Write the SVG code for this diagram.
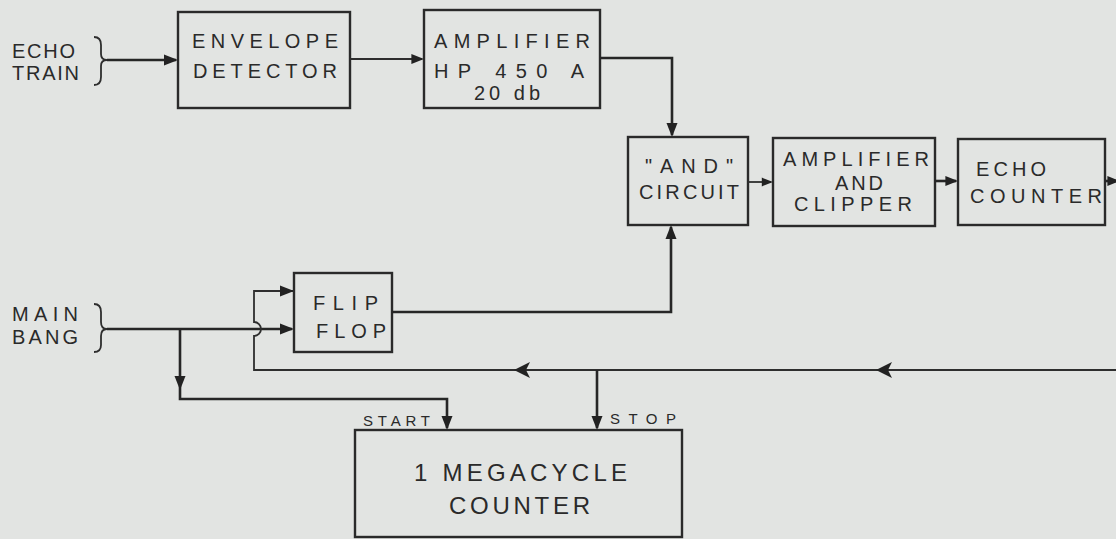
<svg xmlns="http://www.w3.org/2000/svg" xmlns:xlink="http://www.w3.org/1999/xlink" width="1116" height="539" viewBox="0 0 1116 539">
<style>
.bg{fill:#e2e4e2}
.box{fill:none;stroke:#2a2a2a;stroke-width:2.4}
.ln{fill:none;stroke:#262626;stroke-width:2.6}
.thin{fill:none;stroke:#2e2e2e;stroke-width:1.8}
.ah{fill:#222}
text{font-family:"Liberation Sans","DejaVu Sans",sans-serif;fill:#2a2a2a;font-size:20px}
.sm{font-size:15px}
.lg{font-size:24px}
</style>
<defs>
<path id="ah" d="M0,0 L-14,-5.5 L-14,5.5 Z"/>
<path id="ahb" d="M0,0 L-16,-8 L-12,0 L-16,8 Z"/>
</defs>
<rect class="bg" x="0" y="0" width="1116" height="539"/>

<g id="echo-train">
<text x="12" y="58" textLength="63" lengthAdjust="spacing">ECHO</text>
<text x="12" y="80" textLength="67" lengthAdjust="spacing">TRAIN</text>
<path class="thin" d="M94,37 Q101,37 101,45 L101,54 Q101,60 107,60 Q101,60 101,66 L101,77 Q101,85 94,85"/>
</g>

<g id="main-bang">
<text x="12" y="321" textLength="66" lengthAdjust="spacing">MAIN</text>
<text x="12" y="344" textLength="66" lengthAdjust="spacing">BANG</text>
<path class="thin" d="M94,304 Q101,304 101,312 L101,322 Q101,329 107,329 Q101,329 101,336 L101,345 Q101,352 94,352"/>
</g>

<g id="envelope-detector">
<rect class="box" x="178" y="12" width="172" height="96"/>
<text x="192" y="48" textLength="146" lengthAdjust="spacing">ENVELOPE</text>
<text x="193" y="78" textLength="144" lengthAdjust="spacing">DETECTOR</text>
</g>

<g id="amplifier-hp450a">
<rect class="box" x="424" y="10" width="176" height="98"/>
<text x="434" y="48" textLength="156" lengthAdjust="spacing">AMPLIFIER</text>
<text x="434" y="78" textLength="150" lengthAdjust="spacing">HP 450 A</text>
<text x="474" y="100" textLength="66" lengthAdjust="spacing">20 db</text>
</g>

<g id="and-circuit">
<rect class="box" x="628" y="137" width="120" height="88"/>
<text x="645" y="173" textLength="88" lengthAdjust="spacing">"AND"</text>
<text x="639" y="199" textLength="100" lengthAdjust="spacing">CIRCUIT</text>
</g>

<g id="amplifier-clipper">
<rect class="box" x="773" y="138" width="162" height="88"/>
<text x="783" y="166" textLength="146" lengthAdjust="spacing">AMPLIFIER</text>
<text x="835" y="190" textLength="48" lengthAdjust="spacing">AND</text>
<text x="794" y="211" textLength="118" lengthAdjust="spacing">CLIPPER</text>
</g>

<g id="echo-counter">
<rect class="box" x="958" y="139" width="147" height="86"/>
<text x="976" y="176" textLength="70" lengthAdjust="spacing">ECHO</text>
<text x="970" y="203" textLength="132" lengthAdjust="spacing">COUNTER</text>
</g>

<g id="flip-flop">
<rect class="box" x="294" y="273" width="98" height="79"/>
<text x="313" y="310" textLength="65" lengthAdjust="spacing">FLIP</text>
<text x="316" y="338" textLength="70" lengthAdjust="spacing">FLOP</text>
</g>

<g id="megacycle-counter">
<rect class="box" x="355" y="430" width="327" height="107"/>
<text class="lg" x="414" y="481" textLength="213" lengthAdjust="spacing">1 MEGACYCLE</text>
<text class="lg" x="449" y="514" textLength="141" lengthAdjust="spacing">COUNTER</text>
<text class="sm" x="363" y="426" textLength="67" lengthAdjust="spacing">START</text>
<text class="sm" x="610" y="424" textLength="66" lengthAdjust="spacing">STOP</text>
</g>

<g id="connectors">
<path class="ln" d="M107,60 H176"/>
<use xlink:href="#ah" class="ah" transform="translate(178,60)"/>
<path class="thin" d="M350,59 H422"/>
<use xlink:href="#ah" class="ah" transform="translate(424,59) scale(0.9)"/>
<path class="ln" d="M600,58 H672 V135"/>
<use xlink:href="#ah" class="ah" transform="translate(672,137) rotate(90)"/>
<path class="thin" d="M748,182 H771"/>
<use xlink:href="#ah" class="ah" transform="translate(773,182) scale(0.8)"/>
<path class="ln" d="M935,181 H956"/>
<use xlink:href="#ah" class="ah" transform="translate(958,181) scale(0.9)"/>
<path class="ln" d="M1105,181 H1116"/>
<use xlink:href="#ah" class="ah" transform="translate(1120,181) scale(0.9)"/>

<path class="ln" d="M107,329 H292"/>
<use xlink:href="#ah" class="ah" transform="translate(294,329)"/>
<path class="thin" d="M294,291 H254 V322 A7,7 0 0 1 254,336 V370 H1116"/>
<use xlink:href="#ah" class="ah" transform="translate(294,291)"/>
<use xlink:href="#ahb" class="ah" transform="translate(514,370) rotate(180)"/>
<use xlink:href="#ahb" class="ah" transform="translate(876,370) rotate(180)"/>
<path class="ln" d="M597,370 V428"/>
<use xlink:href="#ah" class="ah" transform="translate(597,430) rotate(90)"/>
<path class="ln" d="M180,329 V399 H447 V428"/>
<use xlink:href="#ah" class="ah" transform="translate(180,390) rotate(90)"/>
<use xlink:href="#ah" class="ah" transform="translate(447,430) rotate(90)"/>
<path class="ln" d="M392,312 H671 V227"/>
<use xlink:href="#ah" class="ah" transform="translate(671,225) rotate(-90)"/>
</g>
</svg>
